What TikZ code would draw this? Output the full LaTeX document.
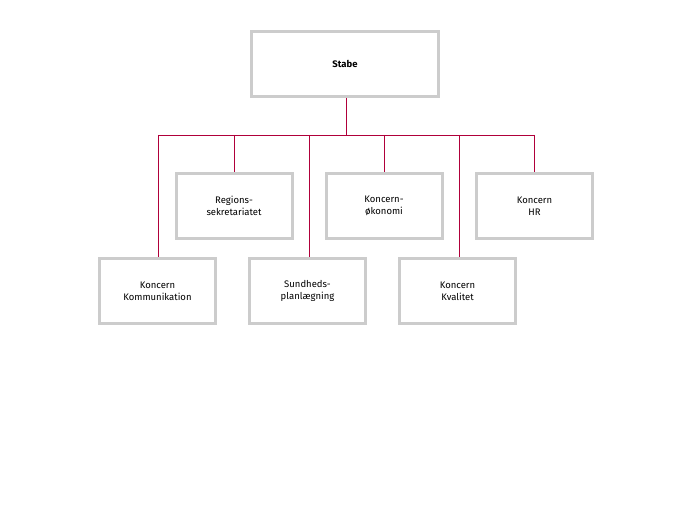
\documentclass[tikz,border=0pt]{standalone}
\usepackage{fontspec}
\setmainfont{Fira Sans}
\begin{document}
\begin{tikzpicture}[x=1pt,y=-1pt,
  box/.style={draw=black!20,line width=3pt,minimum width=116pt,minimum height=65pt,align=center,font=\fontsize{9.5}{12}\selectfont,inner sep=0pt},
  link/.style={draw={rgb,255:red,176;green,0;blue,58},line width=0.9pt}]
\useasboundingbox (0,0) rectangle (690,510);
\node[box,minimum width=187pt,font=\fontsize{9.5}{12}\selectfont\bfseries] (stabe) at (345,64) {Stabe};
\node[box] (reg) at (234,206) {Regions-\\sekretariatet};
\node[box] (oek) at (384,206) {Koncern-\\økonomi};
\node[box] (hr) at (534.5,206) {Koncern\\HR};
\node[box] (kom) at (157.5,291) {Koncern\\Kommunikation};
\node[box] (sund) at (307.5,291) {Sundheds-\\planlægning};
\node[box] (kval) at (457.5,291) {Koncern\\Kvalitet};
\coordinate (j) at (346,135);
\draw[link] (stabe.south -| j) -- (j);
\draw[link] (158,135) -- (534,135);
\draw[link] (158,135) -- (158,135 |- kom.north);
\draw[link] (234,135) -- (reg.north);
\draw[link] (309,135) -- (309,135 |- sund.north);
\draw[link] (384,135) -- (oek.north);
\draw[link] (459,135) -- (459,135 |- kval.north);
\draw[link] (534,135) -- (534,135 |- hr.north);
\end{tikzpicture}
\end{document}
